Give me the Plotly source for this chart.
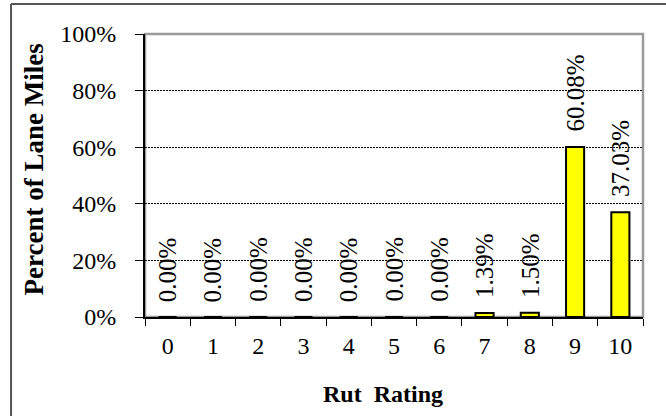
import plotly.graph_objects as go

categories = ["0", "1", "2", "3", "4", "5", "6", "7", "8", "9", "10"]
values = [0.0, 0.0, 0.0, 0.0, 0.0, 0.0, 0.0, 1.39, 1.50, 60.08, 37.03]
labels = ["0.00%", "0.00%", "0.00%", "0.00%", "0.00%", "0.00%", "0.00%",
          "1.39%", "1.50%", "60.08%", "37.03%"]
y_ticks = [0, 20, 40, 60, 80, 100]
y_ticktext = ["0%", "20%", "40%", "60%", "80%", "100%"]

FONT = "Liberation Serif"

fig = go.Figure()
fig.add_trace(go.Bar(
    x=categories, y=values,
    marker=dict(color="#FFFF00", line=dict(color="black", width=2)),
    hoverinfo="skip",
))

for c, v, t in zip(categories, values, labels):
    fig.add_annotation(x=c, y=v, text=t, textangle=-90, showarrow=False,
                       xanchor="center", yanchor="bottom", yshift=13,
                       font=dict(family=FONT, size=25, color="black"))

# axis titles
fig.add_annotation(xref="paper", yref="paper", x=-0.222, y=0.523,
                   text="<b>Percent of Lane Miles</b>", textangle=-90,
                   showarrow=False, xanchor="center", yanchor="middle",
                   font=dict(family=FONT, size=27, color="black"))
fig.add_annotation(xref="paper", yref="paper", x=0.477, y=-0.272,
                   text="<b>Rut\u00a0 Rating</b>",
                   showarrow=False, xanchor="center", yanchor="middle",
                   font=dict(family=FONT, size=24, color="black"))

# plot area border (top/right gray)
fig.add_shape(type="rect", xref="paper", yref="paper", x0=0, x1=1, y0=0, y1=1,
              line=dict(color="#9a9a9a", width=2.5), layer="below")
# outer chart frame (left & top visible)
fig.add_shape(type="line", xref="paper", yref="paper", x0=-0.269, x1=-0.269,
              y0=1.106, y1=-0.5, line=dict(color="#555555", width=2))
fig.add_shape(type="line", xref="paper", yref="paper", x0=-0.269, x1=1.2,
              y0=1.106, y1=1.106, line=dict(color="#555555", width=2))

fig.update_layout(
    width=666, height=416,
    margin=dict(l=145, r=23, t=34, b=99),
    paper_bgcolor="white", plot_bgcolor="white",
    showlegend=False, bargap=0.6,
    font=dict(family=FONT, size=24, color="black"),
)
fig.update_xaxes(
    type="category", showline=True, linecolor="black", linewidth=2,
    ticks="outside", tickson="boundaries", ticklen=7, tickcolor="black",
    tickwidth=1, showgrid=False, ticklabelstandoff=6,
    tickfont=dict(family=FONT, size=24, color="black"),
)
fig.update_yaxes(
    range=[0, 100], tickvals=y_ticks, ticktext=y_ticktext,
    showline=True, linecolor="black", linewidth=2,
    ticks="outside", ticklen=8, tickcolor="black", tickwidth=1,
    showgrid=True, gridcolor="black", gridwidth=1, griddash="2px,1px",
    zeroline=False, ticklabelstandoff=14,
    tickfont=dict(family=FONT, size=24, color="black"),
)

fig.write_html("out.html", config={"displayModeBar": False},
               post_script="document.body.style.margin='0';")
